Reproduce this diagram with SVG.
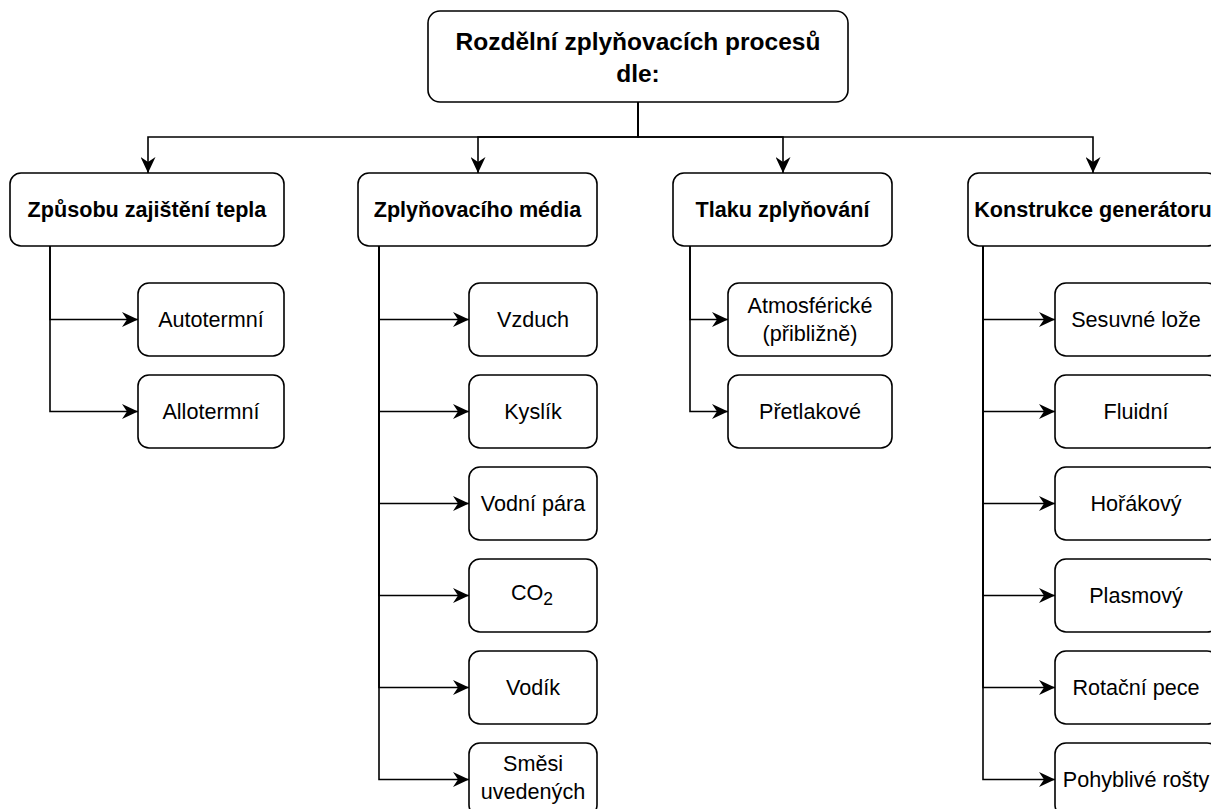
<svg xmlns="http://www.w3.org/2000/svg" width="1211" height="809" viewBox="0 0 1211 809">
<style>
.box{fill:#fff;stroke:#000;stroke-width:1.6}
.t{font-family:"Liberation Sans",Arial,sans-serif;font-size:21.6px;fill:#000;text-anchor:middle}
.b{font-weight:bold}
.e{fill:none;stroke:#000;stroke-width:1.6;marker-end:url(#arr)}
</style>
<defs>
<marker id="arr" markerUnits="userSpaceOnUse" viewBox="0 0 16 15" markerWidth="16" markerHeight="15" refX="16" refY="7.5" orient="auto">
<path d="M0,0 L16,7.5 L0,15 L5,7.5 Z" fill="#000"/>
</marker>
</defs>
<rect width="1211" height="809" fill="#fff"/>
<g id="edges">
<path class="e" d="M638,102 V137 H148 V173"/>
<path class="e" d="M638,102 V137 H478 V173"/>
<path class="e" d="M638,102 V137 H783 V173"/>
<path class="e" d="M638,102 V137 H1093 V173"/>
<path class="e" d="M50,246 V319.5 H138"/>
<path class="e" d="M50,246 V411.5 H138"/>
<path class="e" d="M379,246 V319.5 H469"/>
<path class="e" d="M379,246 V411.5 H469"/>
<path class="e" d="M379,246 V503.5 H469"/>
<path class="e" d="M379,246 V595.5 H469"/>
<path class="e" d="M379,246 V687.5 H469"/>
<path class="e" d="M379,246 V779.5 H469"/>
<path class="e" d="M690,246 V319.5 H728"/>
<path class="e" d="M690,246 V411.5 H728"/>
<path class="e" d="M983,246 V319.5 H1055"/>
<path class="e" d="M983,246 V411.5 H1055"/>
<path class="e" d="M983,246 V503.5 H1055"/>
<path class="e" d="M983,246 V595.5 H1055"/>
<path class="e" d="M983,246 V687.5 H1055"/>
<path class="e" d="M983,246 V779.5 H1055"/>
</g>
<g id="root">
<rect class="box" x="428" y="11" width="420" height="91" rx="12"/>
<text class="t b" x="638" y="50" style="font-size:24.5px">Rozdělní zplyňovacích procesů</text>
<text class="t b" x="638" y="82" style="font-size:24.5px">dle:</text>
</g>
<g id="cat1">
<rect class="box" x="10" y="173" width="274" height="73" rx="11"/>
<text class="t b" x="147" y="217">Způsobu zajištění tepla</text>
</g>
<g id="cat2">
<rect class="box" x="358" y="173" width="239" height="73" rx="11"/>
<text class="t b" x="477.5" y="217">Zplyňovacího média</text>
</g>
<g id="cat3">
<rect class="box" x="673" y="173" width="219" height="73" rx="11"/>
<text class="t b" x="782.5" y="217">Tlaku zplyňování</text>
</g>
<g id="cat4">
<rect class="box" x="968" y="173" width="250" height="73" rx="11"/>
<text class="t b" x="1093" y="217">Konstrukce generátoru</text>
</g>
<g id="autotermni">
<rect class="box" x="138" y="283" width="146" height="73" rx="11"/>
<text class="t" x="211" y="327">Autotermní</text>
</g>
<g id="allotermni">
<rect class="box" x="138" y="375" width="146" height="73" rx="11"/>
<text class="t" x="211" y="419">Allotermní</text>
</g>
<g id="vzduch">
<rect class="box" x="469" y="283" width="128" height="73" rx="11"/>
<text class="t" x="533" y="327">Vzduch</text>
</g>
<g id="kyslik">
<rect class="box" x="469" y="375" width="128" height="73" rx="11"/>
<text class="t" x="533" y="419">Kyslík</text>
</g>
<g id="vodni-para">
<rect class="box" x="469" y="467" width="128" height="73" rx="11"/>
<text class="t" x="533" y="511">Vodní pára</text>
</g>
<g id="co2">
<rect class="box" x="469" y="559" width="128" height="73" rx="11"/>
<text class="t" x="532" y="600">CO<tspan style="font-size:17.5px" dy="5">2</tspan></text>
</g>
<g id="vodik">
<rect class="box" x="469" y="651" width="128" height="73" rx="11"/>
<text class="t" x="533" y="695">Vodík</text>
</g>
<g id="smesi">
<rect class="box" x="469" y="743" width="128" height="73" rx="11"/>
<text class="t" x="533" y="771">Směsi</text>
<text class="t" x="533" y="799">uvedených</text>
</g>
<g id="atmosfericke">
<rect class="box" x="728" y="283" width="164" height="73" rx="11"/>
<text class="t" x="810" y="313">Atmosférické</text>
<text class="t" x="810" y="341">(přibližně)</text>
</g>
<g id="pretlakove">
<rect class="box" x="728" y="375" width="164" height="73" rx="11"/>
<text class="t" x="810" y="419">Přetlakové</text>
</g>
<g id="sesuvne">
<rect class="box" x="1055" y="283" width="163" height="73" rx="11"/>
<text class="t" x="1136" y="327">Sesuvné lože</text>
</g>
<g id="fluidni">
<rect class="box" x="1055" y="375" width="163" height="73" rx="11"/>
<text class="t" x="1136" y="419">Fluidní</text>
</g>
<g id="horakovy">
<rect class="box" x="1055" y="467" width="163" height="73" rx="11"/>
<text class="t" x="1136" y="511">Hořákový</text>
</g>
<g id="plasmovy">
<rect class="box" x="1055" y="559" width="163" height="73" rx="11"/>
<text class="t" x="1136" y="603">Plasmový</text>
</g>
<g id="rotacni">
<rect class="box" x="1055" y="651" width="163" height="73" rx="11"/>
<text class="t" x="1136" y="695">Rotační pece</text>
</g>
<g id="pohyblive">
<rect class="box" x="1055" y="743" width="163" height="73" rx="11"/>
<text class="t" x="1136" y="787">Pohyblivé rošty</text>
</g>
</svg>
